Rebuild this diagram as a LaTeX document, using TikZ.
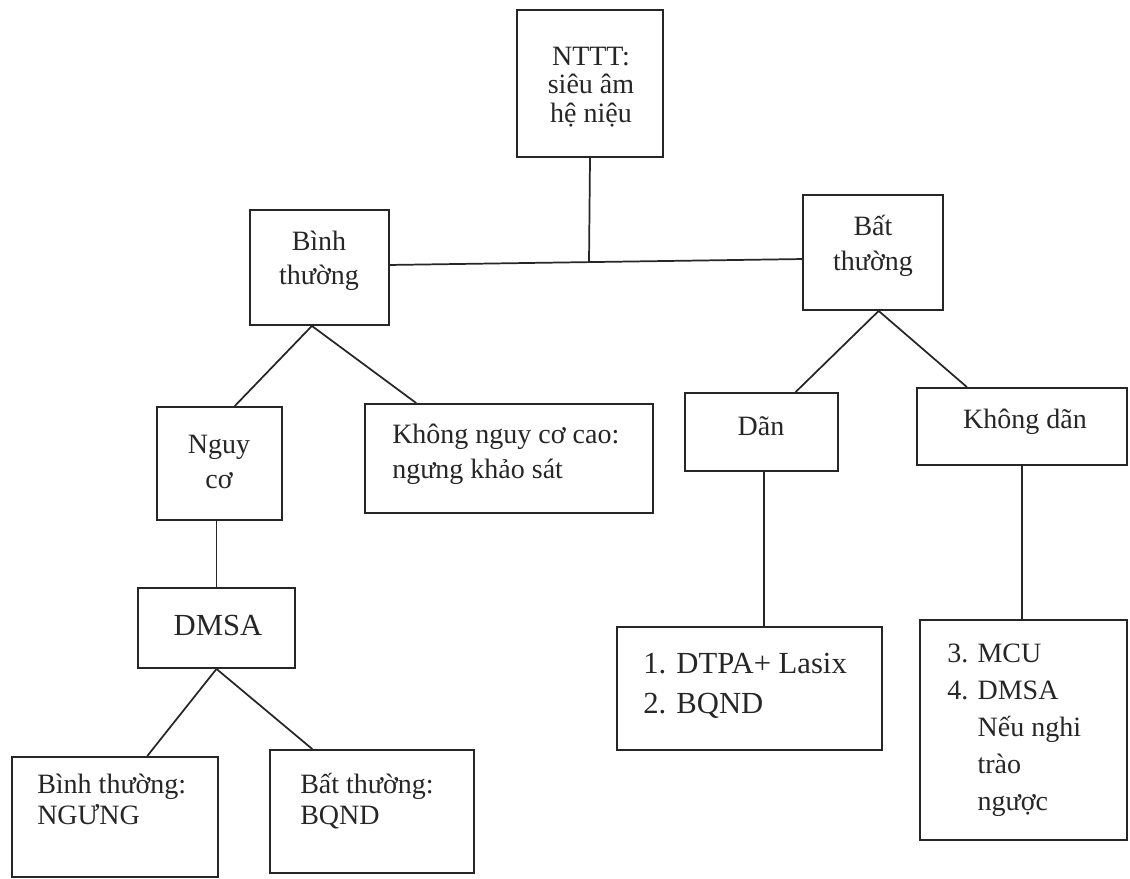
\documentclass[tikz,border=0pt]{standalone}
\usepackage{fontspec}
\setmainfont{Liberation Serif}
\usetikzlibrary{fit,calc}
\newcommand\mlines[2]{\begin{tabular}[t]{@{}#1@{}}#2\end{tabular}}
\tikzset{
  box/.style={draw=black!85, line width=1.4pt, inner sep=0pt},
  link/.style={draw=black!85, line width=1.3pt},
  txt/.style={inner sep=0pt, text=black!85},
}
\begin{document}
\begin{tikzpicture}[x=0.75pt,y=-0.75pt]
\useasboundingbox (0,0) rectangle (1130,878);
% boxes
\node[box, fit={(517,10) (663,157)}] (ntt) {};
\node[box, fit={(250,210) (389,325)}] (bin) {};
\node[box, fit={(803,195) (943,310)}] (bat) {};
\node[box, fit={(157,407) (282,520)}] (ngu) {};
\node[box, fit={(365,404) (653,513)}] (kng) {};
\node[box, fit={(685,393) (838,471)}] (dan) {};
\node[box, fit={(917,388) (1127,465)}] (kda) {};
\node[box, fit={(138,588) (295,668)}] (dms) {};
\node[box, fit={(617,627) (882,750)}] (dtp) {};
\node[box, fit={(920,620) (1127,840)}] (mcu) {};
\node[box, fit={(12,757) (218,877)}] (lbn) {};
\node[box, fit={(270,750) (474,873)}] (lbt) {};
% texts
\node[txt, anchor=base, font=\fontsize{21}{21.4}\selectfont] (tntt) at (591,65) {\mlines{c}{NTTT:\\siêu âm\\hệ niệu}};
\node[txt, anchor=base, font=\fontsize{21}{25.5}\selectfont] (tbin) at (319,250) {\mlines{c}{Bình\\thường}};
\node[txt, anchor=base, font=\fontsize{21}{26.25}\selectfont] (tbat) at (873,235) {\mlines{c}{Bất\\thường}};
\node[txt, anchor=base, font=\fontsize{21}{26.25}\selectfont] (tngu) at (219,453) {\mlines{c}{Nguy\\cơ}};
\node[txt, anchor=base west, font=\fontsize{21}{26.25}\selectfont] (tkng) at (392,443) {\mlines{l}{Không nguy cơ cao:\\ngưng khảo sát}};
\node[txt, anchor=base, font=\fontsize{21}{26}\selectfont] (tdan) at (761,435) {Dãn};
\node[txt, anchor=base, font=\fontsize{21}{26}\selectfont] (tkda) at (1025,428) {Không dãn};
\node[txt, anchor=base, font=\fontsize{23}{28}\selectfont] (tdms) at (218,635) {DMSA};
\node[txt, anchor=base west, font=\fontsize{23}{30}\selectfont] (tdtp) at (643,673) {\mlines{l}{1. DTPA+ Lasix\\2. BQND}};
\node[txt, anchor=base west, font=\fontsize{21}{27.75}\selectfont] (tmcu) at (947,662) {\mlines{l}{3. MCU\\4. DMSA\\\hphantom{4. }Nếu nghi\\\hphantom{4. }trào\\\hphantom{4. }ngược}};
\node[txt, anchor=base west, font=\fontsize{21}{23.6}\selectfont] (tlbn) at (37,793) {\mlines{l}{Bình thường:\\NGƯNG}};
\node[txt, anchor=base west, font=\fontsize{21}{23.6}\selectfont] (tlbt) at (300,793) {\mlines{l}{Bất thường:\\BQND}};
% connectors
\coordinate (hj) at (589,262);
\draw[link] (ntt.south) -- (hj);
\draw[link] ([yshift=1.9pt]bin.east) -- ([yshift=-4.9pt]bat.west);
\draw[link] ($(bin.south west)!0.446!(bin.south east)$) -- ($(ngu.north west)!0.62!(ngu.north east)$);
\draw[link] ($(bin.south west)!0.446!(bin.south east)$) -- ($(kng.north west)!0.18!(kng.north east)$);
\draw[link] ($(bat.south west)!0.54!(bat.south east)$) -- ($(dan.north west)!0.72!(dan.north east)$);
\draw[link] ($(bat.south west)!0.54!(bat.south east)$) -- ($(kda.north west)!0.24!(kda.north east)$);
\draw[link] ([xshift=2pt]dan.south) -- ([xshift=2pt]dan.south |- dtp.north);
\draw[link] (kda.south) -- (kda.south |- mcu.north);
\draw[link] (ngu.south -| dms.north) -- (dms.north);
\draw[link] (dms.south) -- ($(lbn.north west)!0.655!(lbn.north east)$);
\draw[link] (dms.south) -- ($(lbt.north west)!0.21!(lbt.north east)$);
\end{tikzpicture}
\end{document}
